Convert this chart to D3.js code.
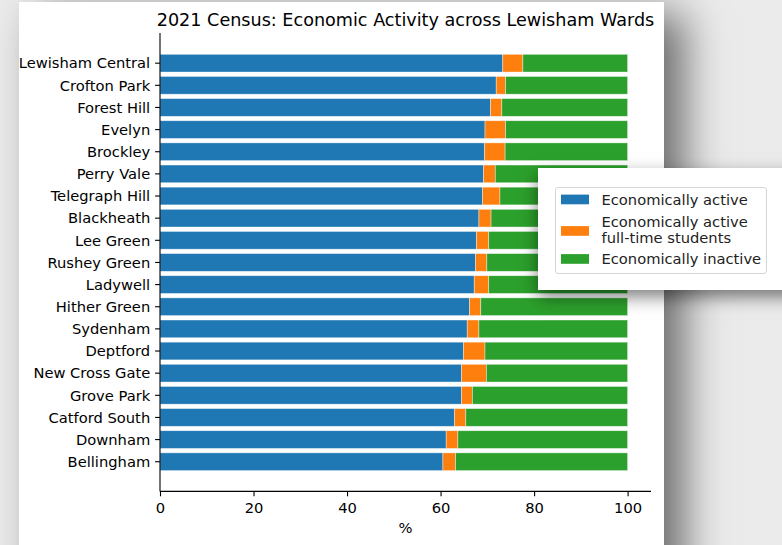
<!DOCTYPE html>
<html>
<head>
<meta charset="utf-8">
<script src="https://cdn.jsdelivr.net/npm/d3@7"></script>
<style>
  html, body { margin: 0; padding: 0; }
  body { width: 782px; height: 545px; background: #ebebeb; position: relative; overflow: hidden; font-family: "DejaVu Sans", sans-serif; }
  #card { position: absolute; left: 19px; top: 2px; width: 645px; height: 620px; background: #fff;
          box-shadow: 20px 12px 40px rgba(0,0,0,0.55); }
  #chart { position: absolute; left: 0; top: 0; }
  #legendBox { position: absolute; left: 538px; top: 168px; width: 280px; height: 122px; background: #fff;
               box-shadow: 0 7px 16px rgba(0,0,0,0.5); }
  #legend { position: absolute; left: 0; top: 0; }
</style>
</head>
<body>
<div id="card"></div>
<svg id="chart" width="782" height="545"></svg>
<div id="legendBox"><svg id="legend" width="244" height="122"></svg></div>
<script>
const wards = ["Lewisham Central","Crofton Park","Forest Hill","Evelyn","Brockley","Perry Vale","Telegraph Hill","Blackheath","Lee Green","Rushey Green","Ladywell","Hither Green","Sydenham","Deptford","New Cross Gate","Grove Park","Catford South","Downham","Bellingham"];
const active   = [73.3,71.9,70.7,69.5,69.4,69.2,69.0,68.2,67.7,67.5,67.2,66.2,65.7,64.9,64.5,64.5,63.0,61.2,60.5];
const students = [4.3,2.0,2.4,4.4,4.4,2.5,3.7,2.6,2.6,2.4,3.1,2.4,2.5,4.6,5.3,2.3,2.4,2.5,2.7];
const inactive = [22.4,26.1,26.9,26.1,26.2,28.3,27.3,29.2,29.7,30.1,29.7,31.4,31.8,30.5,30.2,33.2,34.6,36.3,36.8];
const seriesNames = ["Economically active","Economically active\nfull-time students","Economically inactive"];
const seriesKeys = ["active","students","inactive"];
const colors = ["#1f77b4","#ff7f0e","#2ca02c"];
const xTicks = [0,20,40,60,80,100];
const title = "2021 Census: Economic Activity across Lewisham Wards";
const xLabel = "%";

(function () {
const FS = 14.7, TFS = 17.6;
const rows = wards.map((w,i) => ({ward: w, active: active[i], students: students[i], inactive: inactive[i]}));
const stacked = d3.stack().keys(seriesKeys)(rows);

const svg = d3.select("#chart");
const pLeft = 160, pRight = 651, pTop = 33.5, pBottom = 491.4;
const x = d3.scaleLinear().domain([0, 105]).range([pLeft, pRight]);
const n = wards.length;
const yLin = d3.scaleLinear().domain([-0.4 - 0.94, n - 1 + 0.4 + 0.94]).range([pTop, pBottom]);
const barH = yLin(0.8) - yLin(0);

svg.append("text").attr("x", (pLeft + pRight) / 2).attr("y", 25.5)
  .attr("text-anchor", "middle").attr("font-size", TFS).attr("fill", "#000").text(title);

stacked.forEach((s, si) => {
  svg.append("g").selectAll("rect").data(s).join("rect")
    .attr("x", d => x(d[0]))
    .attr("width", d => x(d[1]) - x(d[0]))
    .attr("y", (d, i) => yLin(i) - barH / 2)
    .attr("height", barH)
    .attr("fill", colors[si])
    .attr("stroke", "rgba(255,255,255,0.55)")
    .attr("stroke-width", 0.7);
});

const yAxis = svg.append("g").attr("transform", `translate(${pLeft},0)`);
yAxis.append("line").attr("x1", 0).attr("x2", 0).attr("y1", pTop - 0.6).attr("y2", pBottom).attr("stroke", "#000").attr("stroke-width", 1.1);
wards.forEach((w, i) => {
  yAxis.append("line").attr("x1", -4.9).attr("x2", 0).attr("y1", yLin(i)).attr("y2", yLin(i)).attr("stroke", "#000").attr("stroke-width", 1.1);
  yAxis.append("text").attr("x", -9.8).attr("y", yLin(i)).attr("dy", "0.36em")
    .attr("text-anchor", "end").attr("font-size", FS).attr("fill", "#000").text(w);
});

const xAxis = d3.axisBottom(x).tickValues(xTicks).tickSize(4.9).tickPadding(5).tickFormat(d3.format("d"));
const gx = svg.append("g").attr("transform", `translate(0,${pBottom})`).call(xAxis);
gx.select(".domain").attr("d", `M${pLeft},0H${pRight}`).attr("stroke-width", 1.1);
gx.selectAll(".tick line").attr("stroke-width", 1.1);
gx.selectAll(".tick text").attr("font-size", FS).attr("font-family", "DejaVu Sans").attr("fill", "#000")
  .attr("y", 21.8).attr("dy", 0);
svg.append("text").attr("x", (pLeft + pRight) / 2).attr("y", 533).attr("text-anchor", "middle")
  .attr("font-size", FS).attr("fill", "#000").text(xLabel);

const lg = d3.select("#legend");
lg.append("rect").attr("x", 17.5).attr("y", 19.5).attr("width", 211).attr("height", 86).attr("rx", 2.5)
  .attr("fill", "#fff").attr("stroke", "#d6d6d6").attr("stroke-width", 1);
const handleY = [31.5, 63, 91];
const textY = [[31.5], [53.5, 69.5], [91]];
seriesNames.forEach((name, i) => {
  lg.append("rect").attr("x", 23).attr("y", handleY[i] - 4.9).attr("width", 28).attr("height", 9.7).attr("fill", colors[i]);
  name.split("\n").forEach((line, j) => {
    lg.append("text").attr("x", 63.5).attr("y", textY[i][j]).attr("dy", "0.36em")
      .attr("font-size", FS).attr("fill", "#222").text(line);
  });
});
})();
</script>
</body>
</html>
